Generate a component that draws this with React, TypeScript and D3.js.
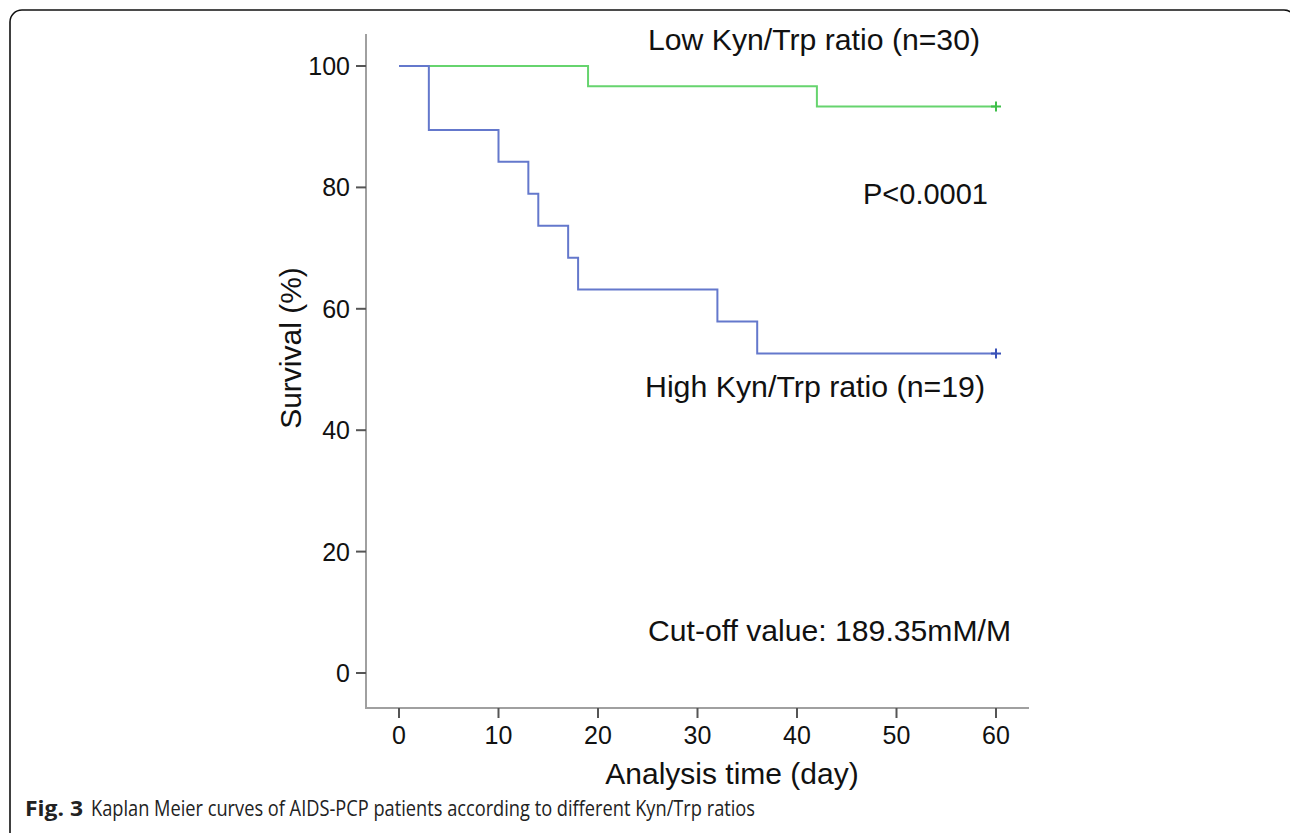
import React from "react";
import * as d3 from "d3";

const yTicks = [0, 20, 40, 60, 80, 100];
const xTicks = [0, 10, 20, 30, 40, 50, 60];

const lowTimes = [0, 19, 42, 60];
const lowSurvival = [100, 96.67, 93.33, 93.33];
const highTimes = [0, 3, 10, 13, 14, 17, 18, 32, 36, 60];
const highSurvival = [100, 89.47, 84.21, 78.95, 73.68, 68.42, 63.16, 57.89, 52.63, 52.63];

const lowLabel = "Low Kyn/Trp ratio (n=30)";
const highLabel = "High Kyn/Trp ratio (n=19)";
const pLabel = "P<0.0001";
const cutoffLabel = "Cut-off value: 189.35mM/M";
const xTitle = "Analysis time (day)";
const yTitle = "Survival (%)";
const captionBold = "Fig. 3";
const captionText = "Kaplan Meier curves of AIDS-PCP patients according to different Kyn/Trp ratios";

const FONT = "'Liberation Sans', Arial, sans-serif";
const CAP_FONT = "'Open Sans', 'Noto Sans', sans-serif";

export default function App() {
  const W = 1290;
  const H = 833;
  const x = d3.scaleLinear().domain([0, 60]).range([399, 996]);
  const y = d3.scaleLinear().domain([0, 100]).range([673, 66]);
  const axisX = 366;
  const axisY = 708;

  const line = d3
    .line<[number, number]>()
    .x((d) => x(d[0]))
    .y((d) => y(d[1]))
    .curve(d3.curveStepAfter);

  const lowPts: [number, number][] = lowTimes.map((t, i) => [t, lowSurvival[i]]);
  const highPts: [number, number][] = highTimes.map((t, i) => [t, highSurvival[i]]);

  const cross = (cx: number, cy: number, color: string) => (
    <g stroke={color} strokeWidth={2}>
      <line x1={cx - 5} x2={cx + 5} y1={cy} y2={cy} />
      <line x1={cx} x2={cx} y1={cy - 5} y2={cy + 5} />
    </g>
  );

  const lastLow = lowPts[lowPts.length - 1];
  const lastHigh = highPts[highPts.length - 1];

  return (
    <svg
      width={W}
      height={H}
      style={{ position: "absolute", left: 0, top: 0, background: "#fff" }}
      fontFamily={FONT}
    >
      <rect x={0} y={0} width={W} height={H} fill="#fff" />
      <rect x={10} y={10} width={1286} height={900} rx={12} ry={12} fill="none" stroke="#111" strokeWidth={1.6} />

      {/* axes */}
      <line x1={axisX} x2={axisX} y1={34} y2={axisY} stroke="#a0a0a0" strokeWidth={2} />
      <line x1={axisX - 1} x2={1029} y1={axisY} y2={axisY} stroke="#a0a0a0" strokeWidth={2} />

      {yTicks.map((t) => (
        <g key={"y" + t}>
          <line x1={axisX - 10} x2={axisX} y1={y(t)} y2={y(t)} stroke="#555" strokeWidth={2} />
          <text x={350} y={y(t)} textAnchor="end" dominantBaseline="central" fontSize={25} fill="#111">
            {t}
          </text>
        </g>
      ))}
      {xTicks.map((t) => (
        <g key={"x" + t}>
          <line x1={x(t)} x2={x(t)} y1={axisY} y2={axisY + 10} stroke="#555" strokeWidth={2} />
          <text x={x(t)} y={744} textAnchor="middle" fontSize={25} fill="#111">
            {t}
          </text>
        </g>
      ))}

      {/* curves */}
      <path d={line(lowPts) || ""} fill="none" stroke="#66d46e" strokeWidth={2} />
      <path d={line(highPts) || ""} fill="none" stroke="#6478cc" strokeWidth={2} />
      {cross(x(lastLow[0]), y(lastLow[1]), "#3fbf4a")}
      {cross(x(lastHigh[0]), y(lastHigh[1]), "#3a52b8")}

      {/* annotations */}
      <text x={648} y={50} fontSize={29.5} fill="#111" textLength={332} lengthAdjust="spacingAndGlyphs">{lowLabel}</text>
      <text x={863} y={204} fontSize={29.5} fill="#111" textLength={125} lengthAdjust="spacingAndGlyphs">{pLabel}</text>
      <text x={645} y={397} fontSize={29.5} fill="#111" textLength={340} lengthAdjust="spacingAndGlyphs">{highLabel}</text>
      <text x={648} y={641} fontSize={29.5} fill="#111" textLength={363} lengthAdjust="spacingAndGlyphs">{cutoffLabel}</text>

      <text x={732} y={784} textAnchor="middle" fontSize={30} fill="#111">{xTitle}</text>
      <text
        transform={`translate(301, 348) rotate(-90)`}
        textAnchor="middle"
        fontSize={30}
        fill="#111"
      >
        {yTitle}
      </text>

      <text x={25} y={816} fontSize={21} fill="#222" fontFamily={CAP_FONT} fontWeight="bold" textLength={58} lengthAdjust="spacingAndGlyphs">
        {captionBold}
      </text>
      <text x={91} y={816} fontSize={21} fill="#222" fontFamily={CAP_FONT} textLength={664} lengthAdjust="spacingAndGlyphs">
        {captionText}
      </text>
    </svg>
  );
}
